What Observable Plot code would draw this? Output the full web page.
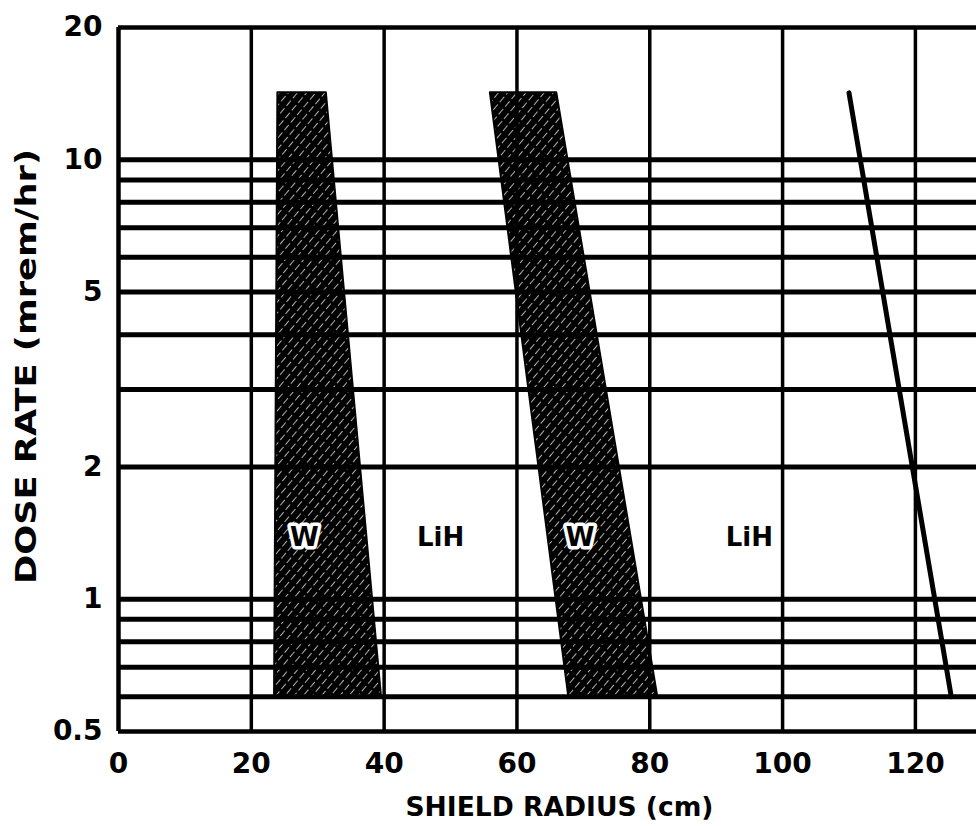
<!DOCTYPE html>
<html><head><meta charset="utf-8">
<script src="https://cdn.jsdelivr.net/npm/d3@7"></script>
<script src="https://cdn.jsdelivr.net/npm/@observablehq/plot@0.6"></script>
<style>body{margin:0;background:#fff} svg{display:block}</style>
</head><body><div id="chart"></div>
<script>
// ---- data ----
const doseGridLines = [0.6, 0.7, 0.8, 0.9, 1, 2, 3, 4, 5, 6, 7, 8, 9, 10];
const radiusGridLines = [20, 40, 60, 80, 100, 120];
const yTickValues = [0.5, 1, 2, 5, 10, 20];
const yTickLabels = ["0.5", "1", "2", "5", "10", "20"];
const xTickValues = [0, 20, 40, 60, 80, 100, 120];
const xTickLabels = ["0", "20", "40", "60", "80", "100", "120"];
// tungsten layers: dose at bottom / top of band, inner and outer radius
const bandDose = [0.6, 14.2];
const w1Inner = [23.5, 24];
const w1Outer = [39.6, 31.3];
const w2Inner = [67.8, 56];
const w2Outer = [81.2, 66];
// outer LiH boundary line
const limitDose = [0.6, 14.2];
const limitRadius = [125.4, 110];
// region labels
const labelText = ["W", "LiH", "W", "LiH"];
const labelRadius = [28, 48.5, 69.5, 95];
const labelDose = [1.38, 1.38, 1.38, 1.38];
const labelHalo = [true, false, true, false];
const xTitle = "SHIELD RADIUS (cm)";
const yTitle = "DOSE RATE (mrem/hr)";

// ---- build tables ----
const band1 = bandDose.map((d, i) => ({d, x1: w1Inner[i], x2: w1Outer[i]}));
const band2 = bandDose.map((d, i) => ({d, x1: w2Inner[i], x2: w2Outer[i]}));
const limit = limitDose.map((d, i) => ({d, r: limitRadius[i]}));
const labels = labelText.map((t, i) => ({t, r: labelRadius[i], d: labelDose[i], halo: labelHalo[i]}));

const font = "'DejaVu Sans', sans-serif";

const chart = Plot.plot({
  width: 976,
  height: 828,
  marginLeft: 118,
  marginRight: 0,
  marginTop: 27,
  marginBottom: 97,
  style: {fontFamily: font, fontWeight: "bold", background: "#fff", color: "#000"},
  x: {domain: [0, 129.2]},
  y: {type: "log", domain: [0.5, 20]},
  marks: [
    Plot.areaX(band1, {y: "d", x1: "x1", x2: "x2", fill: "url(#hatch)", stroke: "#000", strokeWidth: 2}),
    Plot.areaX(band2, {y: "d", x1: "x1", x2: "x2", fill: "url(#hatch)", stroke: "#000", strokeWidth: 2}),
    Plot.ruleY(doseGridLines, {stroke: "#000", strokeWidth: 5}),
    Plot.ruleX(radiusGridLines, {stroke: "#000", strokeWidth: 3.5}),
    Plot.ruleX([0], {stroke: "#000", strokeWidth: 4.5}),
    Plot.ruleY([0.5, 20], {stroke: "#000", strokeWidth: 4.5}),
    Plot.line(limit, {x: "r", y: "d", stroke: "#000", strokeWidth: 5, strokeLinecap: "round"}),
    Plot.text(labels.filter(l => l.halo), {x: "r", y: "d", text: "t", fill: "#000", stroke: "#fff", strokeWidth: 7, fontSize: 26, fontWeight: "bold"}),
    Plot.text(labels.filter(l => !l.halo), {x: "r", y: "d", text: "t", fill: "#000", fontSize: 26, fontWeight: "bold"}),
    Plot.axisY(yTickValues, {tickSize: 0, tickPadding: 16, fontSize: 28, fontWeight: "bold", label: null, tickFormat: (d) => yTickLabels[yTickValues.indexOf(d)]}),
    Plot.axisX(xTickValues, {tickSize: 0, tickPadding: 22, fontSize: 28, fontWeight: "bold", label: null, tickFormat: (d) => xTickLabels[xTickValues.indexOf(d)]}),
    Plot.text([yTitle], {frameAnchor: "left", dx: -92, dy: -13, rotate: -90, textAnchor: "middle", lineAnchor: "middle", fontSize: 29, fontWeight: "bold", className: "ytitle"}),
    Plot.text([xTitle], {frameAnchor: "bottom", dx: 12, dy: 76, textAnchor: "middle", lineAnchor: "middle", fontSize: 27, fontWeight: "bold", className: "xtitle"})
  ]
});

// hatch pattern defs
const ns = "http://www.w3.org/2000/svg";
const defs = document.createElementNS(ns, "defs");
defs.innerHTML = `<pattern id="hatch" patternUnits="userSpaceOnUse" width="7" height="10" patternTransform="rotate(40)">
  <rect width="7" height="10" fill="#000"/>
  <line x1="0" y1="0" x2="0" y2="10" stroke="#fff" stroke-width="1.4" stroke-dasharray="7 3"/>
</pattern>`;
chart.insertBefore(defs, chart.firstChild);
// stretch the wide lettering of the y title to its drawn length
chart.querySelectorAll(".ytitle text").forEach(t => { t.setAttribute("textLength", 435); t.setAttribute("lengthAdjust", "spacingAndGlyphs"); });
chart.querySelectorAll(".xtitle text").forEach(t => { t.setAttribute("textLength", 308); t.setAttribute("lengthAdjust", "spacingAndGlyphs"); });
document.getElementById("chart").appendChild(chart);
</script>
</body></html>
